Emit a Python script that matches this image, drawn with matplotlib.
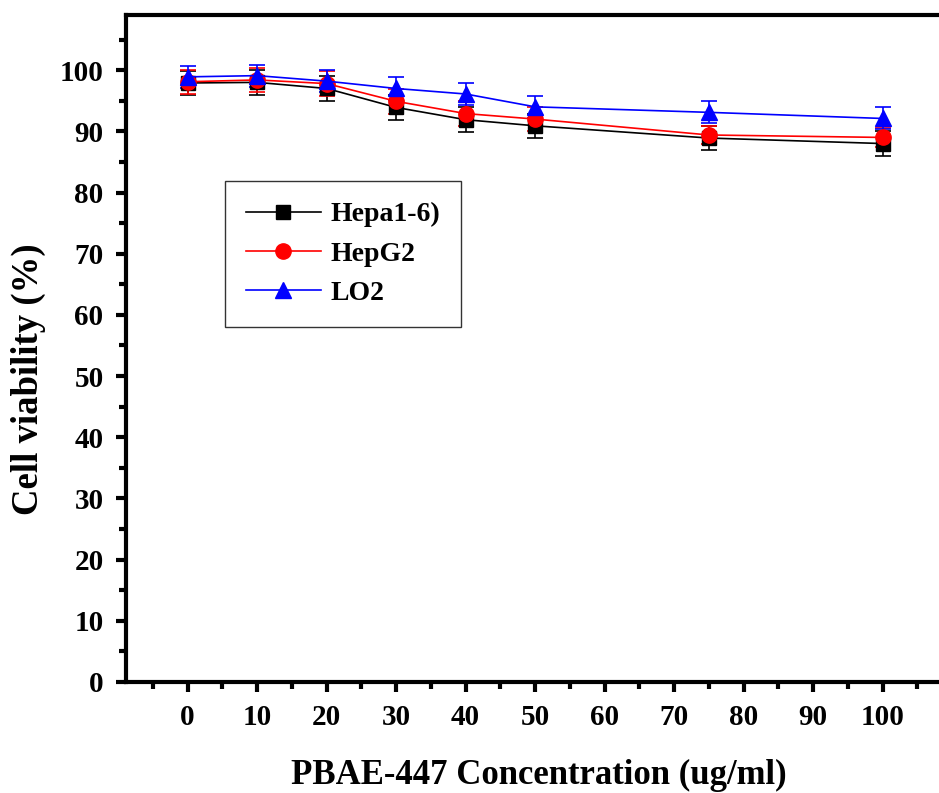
import matplotlib
matplotlib.use('Agg')
import matplotlib.pyplot as plt
from matplotlib.lines import Line2D
from matplotlib.ticker import MultipleLocator

# PBAE-447 concentration (ug/ml)
conc = [0, 10, 20, 30, 40, 50, 75, 100]

# cell viability (%)
hepa = [97.9, 98.0, 97.0, 93.9, 91.9, 90.9, 88.9, 88.0]
hepg2 = [98.1, 98.4, 97.8, 94.9, 92.9, 92.0, 89.4, 89.0]
lo2 = [98.9, 99.1, 98.2, 97.0, 96.1, 94.0, 93.1, 92.1]

hepa_err = [2.0, 2.0, 2.0, 2.0, 2.0, 2.0, 2.0, 2.0]
hepg2_err = [2.0, 2.0, 2.0, 2.0, 2.0, 2.0, 1.5, 1.5]
lo2_err = [1.8, 1.8, 1.8, 1.8, 1.8, 1.8, 1.8, 1.8]

labels = ['Hepa1-6)', 'HepG2', 'LO2']
colors = ['black', 'red', 'blue']
markers = ['s', 'o', '^']
msizes = [10, 11, 12]

plt.rcParams['font.family'] = ['Liberation Serif', 'DejaVu Serif']
plt.rcParams['font.weight'] = 'bold'

fig = plt.figure(figsize=(9.39, 7.93), dpi=100)
ax = fig.add_axes([0.134, 0.14, 0.88, 0.841])

for y, e, c, m, ms in zip([hepa, hepg2, lo2], [hepa_err, hepg2_err, lo2_err],
                          colors, markers, msizes):
    ax.errorbar(conc, y, yerr=e, color=c, marker=m, markersize=ms,
                lw=1.2, capsize=6, elinewidth=1.2, capthick=1.2)

ax.set_xlim(-8.9, 110)
ax.set_ylim(0, 109)
ax.xaxis.set_minor_locator(MultipleLocator(5))
ax.yaxis.set_major_locator(MultipleLocator(10))
ax.yaxis.set_minor_locator(MultipleLocator(5))
ax.set_xticks(range(0, 101, 10))

for s in ax.spines.values():
    s.set_linewidth(3)
ax.tick_params(which='major', direction='out', length=7, width=3, labelsize=21, pad=9)
ax.tick_params(which='minor', direction='out', length=5, width=3)
for lab in ax.get_xticklabels() + ax.get_yticklabels():
    lab.set_fontweight('bold')

ax.set_xlabel('PBAE-447 Concentration (ug/ml)', fontsize=25, fontweight='bold', labelpad=20)
ax.set_ylabel('Cell viability (%)', fontsize=26.5, fontweight='bold')
ax.yaxis.set_label_coords(-0.097, 0.454)

handles = [Line2D([], [], color=c, marker=m, markersize=ms, lw=1.2)
           for c, m, ms in zip(colors, markers, msizes)]
leg = ax.legend(handles, labels, loc='upper left', bbox_to_anchor=(0.12, 0.751),
                fontsize=20, frameon=True, fancybox=False, edgecolor='black',
                handlelength=2.7, handletextpad=0.35, borderpad=0.75,
                labelspacing=0.5, borderaxespad=0)
leg.get_frame().set_linewidth(1.0)
for t in leg.get_texts():
    t.set_fontweight('bold')

plt.savefig('out.png', dpi=100)
plt.close()
